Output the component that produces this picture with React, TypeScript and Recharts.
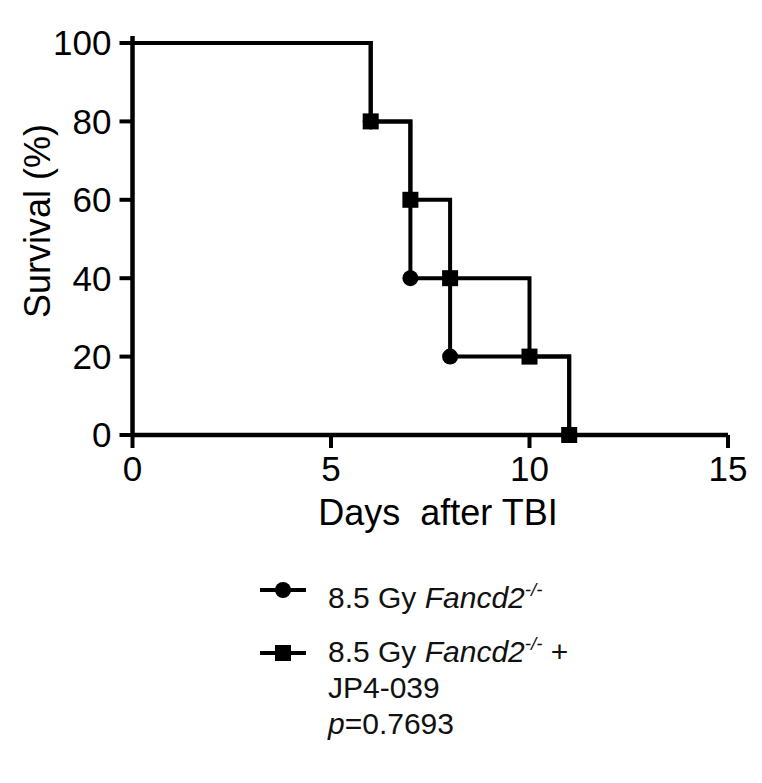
import { LineChart, Line, XAxis, YAxis, Legend, Label } from 'recharts';

// Kaplan-Meier steps
const daysFancd2 = [0, 6, 7, 8, 11];
const survivalFancd2 = [100, 80, 40, 20, 0];
const daysJP4 = [0, 6, 7, 8, 10, 11];
const survivalJP4 = [100, 80, 60, 40, 20, 0];

const xTicks = [0, 5, 10, 15];
const yTicks = [0, 20, 40, 60, 80, 100];
const seriesNames = ['8.5 Gy Fancd2-/-', '8.5 Gy Fancd2-/- + JP4-039'];
const pValue = '0.7693';

const fancd2Data = daysFancd2.map((d, i) => ({ day: d, survival: survivalFancd2[i] }));
const jp4Data = daysJP4.map((d, i) => ({ day: d, survival: survivalJP4[i] }));

const FONT = '"Liberation Sans", Arial, Helvetica, sans-serif';
const INK = '#000';

const circleDot = (props: any) => {
    const { cx, cy, index } = props;
    if (index === 0) return <g key={`c-${index}`} />;
    return <circle key={`c-${index}`} cx={cx} cy={cy} r={8} fill={INK} />;
};

const squareDot = (props: any) => {
    const { cx, cy, index } = props;
    if (index === 0) return <g key={`s-${index}`} />;
    return <rect key={`s-${index}`} x={cx - 8} y={cy - 8} width={16} height={16} fill={INK} />;
};

const Symbol = ({ kind, top }: { kind: 'circle' | 'square'; top: number }) => (
    <svg width={46} height={20} style={{ position: 'absolute', left: 0, top }}>
        <line x1={0} y1={10} x2={46} y2={10} stroke={INK} strokeWidth={4} />
        {kind === 'circle' ? <circle cx={23} cy={10} r={8} fill={INK} /> : <rect x={15} y={2} width={16} height={16} fill={INK} />}
    </svg>
);

const Sup = () => (
    <i style={{ fontSize: '0.62em', verticalAlign: '0.62em', lineHeight: 0 }}>-/-</i>
);

const LegendBox = () => (
    <div style={{ position: 'relative', width: 420, height: 180, fontFamily: FONT, fontSize: 30, color: '#111', lineHeight: '36px' }}>
        <Symbol kind="circle" top={6} />
        <div style={{ position: 'absolute', left: 68, top: 5.6, whiteSpace: 'nowrap' }}>
            8.5 Gy <i>Fancd2</i><Sup />
        </div>
        <Symbol kind="square" top={69} />
        <div style={{ position: 'absolute', left: 68, top: 59.6, whiteSpace: 'nowrap' }}>
            <div>8.5 Gy <i>Fancd2</i><Sup /> +</div>
            <div>JP4-039</div>
            <div><i>p</i>={pValue}</div>
        </div>
    </div>
);

export default function App() {
    const tickStyle = { fill: INK, fontSize: 35, fontFamily: FONT };
    return (
        <LineChart width={746} height={767} margin={{ top: 28, right: 26, bottom: 240, left: 0 }}>
            <XAxis
                type="number"
                dataKey="day"
                domain={[0, 15]}
                ticks={xTicks}
                axisLine={{ stroke: INK, strokeWidth: 4.5 }}
                tickLine={{ stroke: INK, strokeWidth: 4 }}
                tickSize={13}
                tickMargin={8}
                tick={tickStyle}
                height={100}
            >
                <Label
                    content={() => (
                        <text x={430} y={517} textAnchor="middle" fontSize={36} fontFamily={FONT} fill={INK} style={{ whiteSpace: 'pre' }}>
                            {'Days  after TBI'}
                        </text>
                    )}
                />
            </XAxis>
            <YAxis
                type="number"
                domain={[0, 100]}
                ticks={yTicks}
                padding={{ top: 7 }}
                axisLine={{ stroke: INK, strokeWidth: 4.5 }}
                tickLine={{ stroke: INK, strokeWidth: 4 }}
                tickSize={13}
                tickMargin={8}
                tick={tickStyle}
                width={124.5}
            >
                <Label
                    content={() => (
                        <text
                            x={29.5}
                            y={213}
                            transform="rotate(-90, 29.5, 213)"
                            textAnchor="middle"
                            dominantBaseline="central"
                            fontSize={36}
                            fontFamily={FONT}
                            fill={INK}
                        >
                            Survival (%)
                        </text>
                    )}
                />
            </YAxis>
            <Line
                data={fancd2Data}
                dataKey="survival"
                name={seriesNames[0]}
                type="stepAfter"
                stroke={INK}
                strokeWidth={4}
                dot={circleDot}
                activeDot={false}
                isAnimationActive={false}
            />
            <Line
                data={jp4Data}
                dataKey="survival"
                name={seriesNames[1]}
                type="stepAfter"
                stroke={INK}
                strokeWidth={4}
                dot={squareDot}
                activeDot={false}
                isAnimationActive={false}
            />
            <Legend
                layout="vertical"
                align="center"
                verticalAlign="middle"
                wrapperStyle={{ position: 'absolute', left: 252, top: 566, width: 'auto', height: 'auto' }}
                content={() => <LegendBox />}
            />
        </LineChart>
    );
}
